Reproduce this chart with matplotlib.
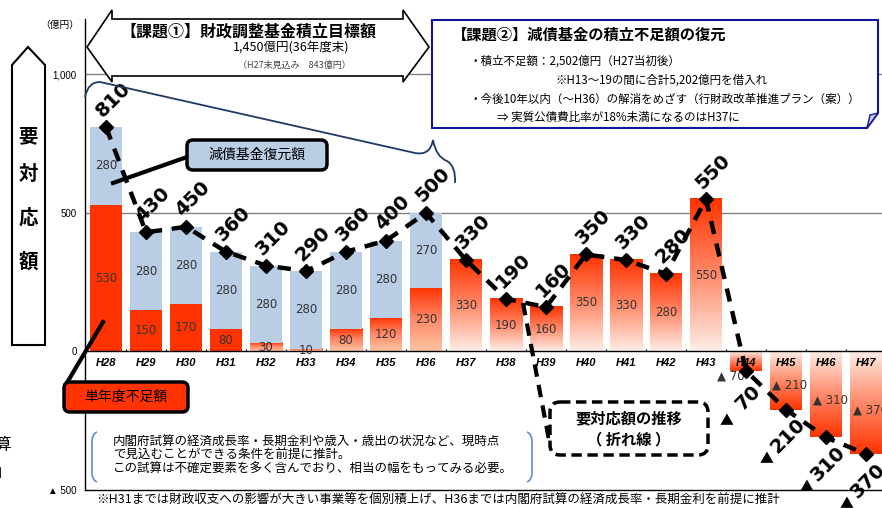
import numpy as np
import matplotlib.pyplot as plt
from matplotlib.patches import Polygon, FancyBboxPatch, PathPatch
from matplotlib.path import Path
from matplotlib.colors import LinearSegmentedColormap
from matplotlib.transforms import Affine2D

plt.rcParams['font.family'] = ['Noto Sans CJK JP', 'DejaVu Sans']

# data (億円)
years = ['H28', 'H29', 'H30', 'H31', 'H32', 'H33', 'H34', 'H35', 'H36', 'H37',
         'H38', 'H39', 'H40', 'H41', 'H42', 'H43', 'H44', 'H45', 'H46', 'H47']
shortfall = [530, 150, 170, 80, 30, 10, 80, 120, 230, 330,
             190, 160, 350, 330, 280, 550, -70, -210, -310, -370]
restore = [280, 280, 280, 280, 280, 280, 280, 280, 270, 0,
           0, 0, 0, 0, 0, 0, 0, 0, 0, 0]
total = [810, 430, 450, 360, 310, 290, 360, 400, 500, 330,
         190, 160, 350, 330, 280, 550, -70, -210, -310, -370]
yticks = [-500, 0, 500, 1000]
ytick_labels = ['▲ 500', '0', '500', '1,000']

W, H = 882, 508
fig = plt.figure(figsize=(W / 100, H / 100), dpi=100)
# pixel coords, origin top-left
pix = Affine2D().scale(1 / 100, -1 / 100).translate(0, H / 100) + fig.dpi_scale_trans

ax = fig.add_axes([85 / W, 1 - 490 / H, (W - 85) / W, (490 - 19) / H])

red = '#FF3300'
blue = '#B9CDE5'
x = np.arange(len(years))
grad = np.linspace(0, 1, 200).reshape(-1, 1)
for i, v in enumerate(shortfall):
    if i < 4:
        ax.bar(i, v, 0.8, color=red, zorder=2)
        continue
    light = '#FBC3A0' if i < 9 else '#FDEDE6'
    cmap = LinearSegmentedColormap.from_list('g', [light, '#FF8A6A', red])
    g = grad if v > 0 else grad[::-1]
    ax.imshow(g, cmap=cmap, origin='lower', aspect='auto', zorder=2,
              extent=[i - 0.4, i + 0.4, min(0, v), max(0, v)])
ax.bar(x, restore, 0.8, bottom=[max(v, 0) for v in shortfall], color=blue, zorder=2)

ax.set_xlim(-0.525, 19.4)
ax.set_ylim(-500, 1200)

lab = dict(ha='center', va='center', fontsize=8.5, color='#333333', family='DejaVu Sans', zorder=4)
for i, v in enumerate(shortfall):
    if v > 0:
        ax.text(i, v / 2, str(v), **lab)
    elif v > -100:
        ax.text(i - 0.38, -90, '▲ ' + str(-v), **lab)
    else:
        ax.text(i + 0.1, v * 0.57, '▲ ' + str(-v), **lab)
for i, v in enumerate(restore):
    if v:
        ax.text(i, shortfall[i] + v / 2, str(v), **lab)

# grid / axes
for yv in (500, 1000):
    ax.axhline(yv, color='#808080', lw=1, zorder=1)
ax.axhline(0, color='black', lw=1, zorder=3)
ax.vlines(np.arange(len(years) - 1) + 0.5, 0, 10, color='black', lw=0.8, zorder=3)
for s in ('top', 'right'):
    ax.spines[s].set_visible(False)
ax.spines['left'].set_linewidth(1)
ax.spines['bottom'].set_linewidth(1)
ax.set_xticks([])
ax.set_yticks(yticks)
ax.set_yticklabels(ytick_labels, fontsize=7, family=['Liberation Sans', 'Noto Sans CJK JP'])
ax.tick_params(axis='y', length=0, pad=6)
for i, yr in enumerate(years):
    ax.text(i, -43, yr, ha='center', va='center', fontsize=8, fontweight='bold',
            fontstyle='italic', family='Liberation Sans', zorder=6)

# total line
ax.plot(x, total, color='black', lw=3.2, ls=(0, (3, 2.2)), marker='D', ms=7, zorder=5)
for i, v in enumerate(total):
    if v >= 0:
        ax.annotate(str(v), (i, v), xytext=(5, 20), textcoords='offset points', rotation=45,
                    ha='center', va='center', fontsize=14, fontweight='bold',
                    family='DejaVu Sans', zorder=6, annotation_clip=False)
    else:
        ax.annotate(str(-v), (i, v), xytext=(1.5, -19), textcoords='offset points', rotation=45,
                    ha='center', va='center', fontsize=14, fontweight='bold',
                    family='DejaVu Sans', zorder=6, annotation_clip=False)
        ax.annotate('▲', (i, v), xytext=(-14, -36), textcoords='offset points',
                    ha='center', va='center', fontsize=10, zorder=6, annotation_clip=False)

fig.text(60, 25, '（億円）', transform=pix, ha='center', va='center', fontsize=7)

# left big arrow
fig.add_artist(Polygon([(12, 65), (28, 47), (45, 65), (45, 345), (12, 345)], closed=True,
                       transform=pix, fc='white', ec='black', lw=1.5))
for ch, yy in zip('要対応額', (137, 175, 218, 262)):
    fig.text(28, yy, ch, transform=pix, ha='center', va='center', fontsize=14, fontweight='bold')
fig.text(11, 445, '算', transform=pix, ha='right', va='center', fontsize=12)
fig.text(11, 473, '」', transform=pix, ha='right', va='center', fontsize=12)

# issue 1 double arrow
fig.add_artist(Polygon([(87, 47), (112, 10), (112, 19), (403, 19), (403, 10), (429, 47),
                        (403, 82), (403, 76), (112, 76), (112, 82)], closed=True,
                       transform=pix, fc='white', ec='black', lw=1.2, zorder=7))
fig.text(248, 32, '【課題①】財政調整基金積立目標額', transform=pix, ha='center', va='center',
         fontsize=11.5, fontweight='bold', zorder=8)
fig.text(291, 48, '1,450億円(36年度末)', transform=pix, ha='center', va='center', fontsize=9, zorder=8)
fig.text(294, 65, '（H27末見込み　843億円）', transform=pix, ha='center', va='center',
         fontsize=6.5, color='#444444', zorder=8)

# issue 2 box
navy = '#14149A'
fig.add_artist(Polygon([(432, 20), (878, 20), (878, 113), (867, 128), (432, 128)], closed=True,
                       transform=pix, fc='white', ec=navy, lw=1.5, zorder=7))
fig.add_artist(Polygon([(867, 128), (870, 115), (878, 113)], closed=True,
                       transform=pix, fc='#C5CDEB', ec=navy, lw=1, zorder=8))
fig.text(452, 35, '【課題②】減債基金の積立不足額の復元', transform=pix, ha='left', va='center',
         fontsize=11, fontweight='bold', zorder=8)
fig.text(470, 61, '・積立不足額：2,502億円（H27当初後）', transform=pix, ha='left', va='center',
         fontsize=8.3, zorder=8)
fig.text(555, 80, '※H13～19の間に合計5,202億円を借入れ', transform=pix, ha='left', va='center',
         fontsize=8.3, zorder=8)
fig.text(470, 99, '・今後10年以内（～H36）の解消をめざす（行財政改革推進プラン（案））', transform=pix,
         ha='left', va='center', fontsize=8.3, zorder=8)
fig.text(497, 117, '⇒ 実質公債費比率が18%未満になるのはH37に', transform=pix, ha='left', va='center',
         fontsize=8.3, zorder=8)

# brace
bv = [(85, 97), (88, 82), (100, 82), (415, 153), (430, 156), (433, 140),
      (436, 157), (447, 161), (456, 166), (455, 183)]
bc = [Path.MOVETO, Path.CURVE3, Path.CURVE3, Path.LINETO, Path.CURVE3, Path.CURVE3,
      Path.CURVE3, Path.CURVE3, Path.CURVE3, Path.CURVE3]
fig.add_artist(PathPatch(Path(bv, bc), transform=pix, fc='none', ec='#1F3864', lw=1.3, zorder=7))

# callouts
fig.add_artist(plt.Line2D([187, 113], [157, 183], transform=pix, color='black', lw=3, zorder=7))
fig.add_artist(FancyBboxPatch((187, 140), 140, 30, boxstyle='round,pad=0,rounding_size=6',
                              transform=pix, fc=blue, ec='black', lw=2.5, zorder=8))
fig.text(257, 155, '減債基金復元額', transform=pix, ha='center', va='center', fontsize=10, zorder=9)

fig.add_artist(plt.Line2D([68, 103], [381, 322], transform=pix, color='black', lw=3, zorder=7))
fig.add_artist(FancyBboxPatch((64, 382), 124, 30, boxstyle='round,pad=0,rounding_size=6',
                              transform=pix, fc=red, ec='black', lw=2.5, zorder=8))
fig.text(126, 397, '単年度不足額', transform=pix, ha='center', va='center', fontsize=10, zorder=9)

fig.add_artist(plt.Line2D([523, 550], [303, 445], transform=pix, color='black', lw=3,
                          ls=(0, (3, 2)), zorder=7))
fig.add_artist(FancyBboxPatch((550, 402), 158, 53, boxstyle='round,pad=0,rounding_size=10',
                              transform=pix, fc='white', ec='black', lw=2.5, ls=(0, (3, 1.6)), zorder=8))
fig.text(629, 418, '要対応額の推移', transform=pix, ha='center', va='center', fontsize=11,
         fontweight='bold', zorder=9)
fig.text(629, 439, '（ 折れ線 ）', transform=pix, ha='center', va='center', fontsize=11,
         fontweight='bold', zorder=9)

# note block with blue brackets
pc = '#5B8FD0'
lp = Path([(97, 432), (92, 434), (92, 442), (92, 472), (92, 480), (97, 482)],
          [Path.MOVETO, Path.CURVE3, Path.CURVE3, Path.LINETO, Path.CURVE3, Path.CURVE3])
rp = Path([(527, 432), (532, 434), (532, 442), (532, 472), (532, 480), (527, 482)],
          [Path.MOVETO, Path.CURVE3, Path.CURVE3, Path.LINETO, Path.CURVE3, Path.CURVE3])
for p in (lp, rp):
    fig.add_artist(PathPatch(p, transform=pix, fc='none', ec=pc, lw=1.2, zorder=7))
notes = ['内閣府試算の経済成長率・長期金利や歳入・歳出の状況など、現時点',
         'で見込むことができる条件を前提に推計。',
         'この試算は不確定要素を多く含んでおり、相当の幅をもってみる必要。']
for line, yy in zip(notes, (441, 455, 469)):
    fig.text(113, yy, line, transform=pix, ha='left', va='center', fontsize=9, zorder=8)
fig.text(96, 500, '※H31までは財政収支への影響が大きい事業等を個別積上げ、H36までは内閣府試算の経済成長率・長期金利を前提に推計',
         transform=pix, ha='left', va='center', fontsize=9)

fig.savefig('out.png', dpi=100)
